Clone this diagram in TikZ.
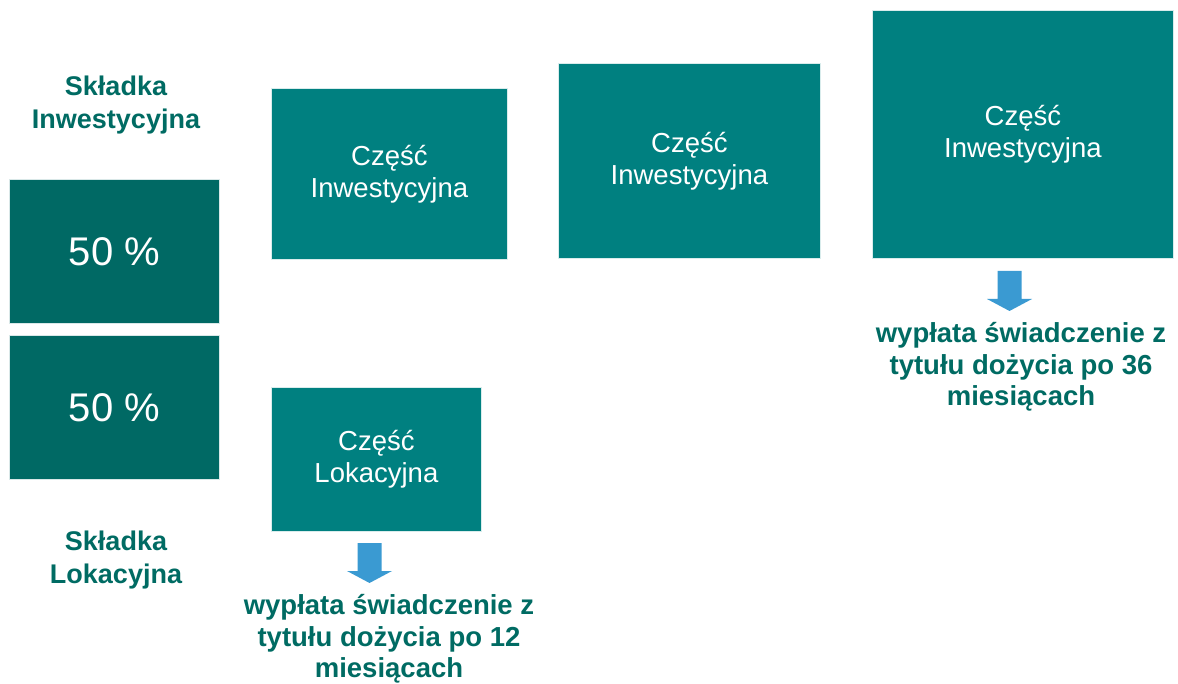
\documentclass[tikz,border=0pt]{standalone}
\usepackage{fontspec}
\setmainfont{Liberation Sans}
\usetikzlibrary{calc}
\definecolor{darkteal}{RGB}{0,105,100}
\definecolor{teal2}{RGB}{0,128,128}
\definecolor{headtxt}{RGB}{0,107,99}
\definecolor{arrowblue}{RGB}{58,154,210}
\begin{document}
\begin{tikzpicture}[x=1pt,y=-1pt,
  pct/.style={fill=darkteal,draw=white!85!darkteal,line width=0.8pt,anchor=north west,inner sep=0pt,text=white,font=\fontsize{40}{46}\selectfont},
  part/.style={fill=teal2,draw=white!85!teal2,line width=0.8pt,anchor=north west,inner sep=0pt,text=white,align=center,font=\fontsize{27.5}{32}\selectfont},
  heading/.style={text=headtxt,align=center,inner sep=0pt,font=\bfseries\fontsize{27}{33}\selectfont},
  payout/.style={text=headtxt,align=center,inner sep=0pt,font=\bfseries\fontsize{27.5}{31.5}\selectfont},
  blockarrow/.style={fill=arrowblue}]
\useasboundingbox (0,0) rectangle (1178,684);
% headings
\node[heading] (hInw) at (116,105) {Składka\\Inwestycyjna};
\node[heading] (hLok) at (116,560) {Składka\\Lokacyjna};
% percentage boxes
\node[pct,minimum width=210,minimum height=144] (p1) at (9,179) {50 \%};
\node[pct,minimum width=210,minimum height=144] (p2) at (9,335) {50 \%};
% parts
\node[part,minimum width=236,minimum height=171] (a) at (271,88) {Część\\Inwestycyjna};
\node[part,minimum width=262,minimum height=195] (b) at (558,63) {Część\\Inwestycyjna};
\node[part,minimum width=301,minimum height=248] (c) at (872,10) {Część\\Inwestycyjna};
\node[part,minimum width=210,minimum height=144] (d) at (271,387) {Część\\Lokacyjna};
% arrows
\coordinate (ar1) at (369.5,543);
\coordinate (ar2) at (1009.5,271);
\foreach \c in {ar1,ar2}{
  \fill[blockarrow] ($(\c)+(-12,0)$) -- ($(\c)+(12,0)$) -- ($(\c)+(12,28)$) -- ($(\c)+(22.5,28)$)
    -- ($(\c)+(0,40)$) -- ($(\c)+(-22.5,28)$) -- ($(\c)+(-12,28)$) -- cycle;
}
% payout texts
\node[payout] (t1) at (389,639) {wypłata świadczenie z\\tytułu dożycia po 12\\miesiącach};
\node[payout] (t2) at (1021,367) {wypłata świadczenie z\\tytułu dożycia po 36\\miesiącach};
\end{tikzpicture}
\end{document}
